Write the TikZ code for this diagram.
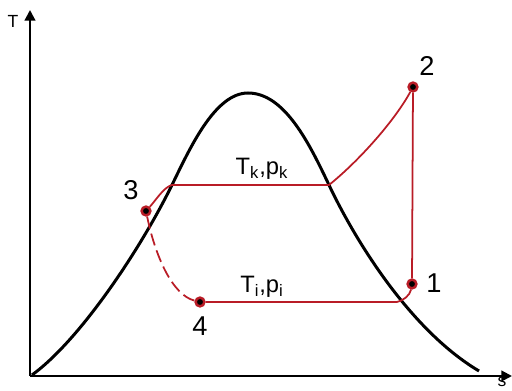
\documentclass[tikz,border=0pt]{standalone}
\usepackage{fontspec}
\setmainfont{Liberation Sans}
\usetikzlibrary{arrows.meta,positioning}
\definecolor{cyclered}{RGB}{185,28,38}

\begin{document}
\begin{tikzpicture}[
  x=0.02cm, y=-0.02cm,
  axis/.style={line width=1.2pt, -{Triangle[length=6pt,width=6pt]}},
  dome/.style={line width=1.7pt, black},
  cycle/.style={line width=1.0pt, cyclered},
  state/.style={circle, inner sep=0pt, minimum size=5pt, fill=black,
                draw=cyclered, line width=1.4pt},
  num/.style={font=\fontsize{15.5}{15.5}\selectfont},
  lbl/.style={font=\fontsize{13.5}{13.5}\selectfont}
]
\useasboundingbox (0,0) rectangle (512,391);
% axes
\coordinate (o) at (30,376);
\coordinate (tend) at (30,10);
\coordinate (send) at (512,376);
\draw[axis] (o) -- (tend);
\draw[axis] (o) -- (send);
\node[font=\fontsize{10}{10}\selectfont] (tl) at (13,21) {T};
\node[font=\fontsize{10}{10}\selectfont, anchor=north, inner sep=0pt] (sl) at (502,377) {s};
% saturation dome
\coordinate (top) at (248,93);
\coordinate (ka) at (172,185);
\coordinate (kb) at (329,185);
\draw[dome] (32,375) .. controls (80,340) and (140,250) .. (ka)
  .. controls (190,148) and (215,93) .. (top)
  .. controls (285,93) and (310,145) .. (kb)
  .. controls (355,240) and (410,330) .. (479,371);
% state points
\node[state] (p1) at (412,284) {};
\node[state] (p2) at (413,87) {};
\node[state] (p3) at (146,211) {};
\node[state] (p4) at (200,302) {};
\coordinate (ib) at (397,302);
% cycle
\draw[cycle] (p3) .. controls (156,200) and (164,187) .. (ka) -- (kb)
  .. controls (360,160) and (395,120) .. (p2) -- (p1)
  .. controls (410,296) and (402,301) .. (ib) -- (p4);
\draw[cycle, dashed, dash pattern=on 7pt off 3pt] (p3)
  .. controls (155,255) and (172,295) .. (p4);
% labels
\node[num] (n1) at (434,283) {1};
\node[num] (n2) at (427,66) {2};
\node[num] (n3) at (131,190) {3};
\node[num] (n4) at (200,326) {4};
\node[lbl] (tk) at (262,169) {T\textsubscript{k},p\textsubscript{k}};
\node[lbl] (ti) at (262,287) {T\textsubscript{i},p\textsubscript{i}};
\end{tikzpicture}
\end{document}
